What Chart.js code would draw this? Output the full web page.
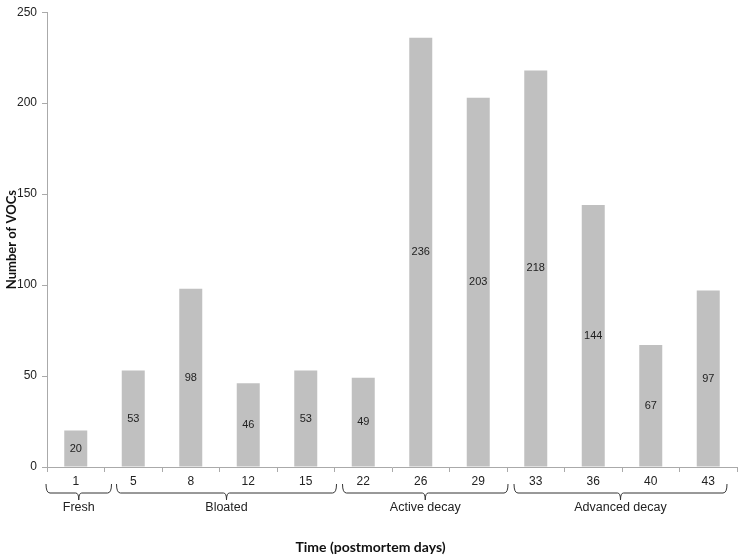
<!DOCTYPE html>
<html>
<head>
<meta charset="utf-8">
<script src="https://cdn.jsdelivr.net/npm/chart.js@4"></script>
<style>
  html, body { margin: 0; padding: 0; background: #fff; }
  #wrap { width: 741px; height: 556px; }
</style>
</head>
<body>
<div id="wrap"><canvas id="vocChart"></canvas></div>
<script>
const days      = ['1', '5', '8', '12', '15', '22', '26', '29', '33', '36', '40', '43'];
const vocCounts = [20, 53, 98, 46, 53, 49, 236, 203, 218, 144, 67, 97];
const yTicks    = [0, 50, 100, 150, 200, 250];

// decay stages: first and last index of days
const stageNames = ['Fresh', 'Bloated', 'Active decay', 'Advanced decay'];
const stageFrom  = [0, 1, 5, 8];
const stageTo    = [0, 4, 7, 11];

const txt = '#222';

// value inside each bar, at half height
const barLabels = {
  id: 'barLabels',
  afterDatasetsDraw(chart) {
    const c = chart.ctx;
    const meta = chart.getDatasetMeta(0);
    c.save();
    c.font = '11px "Liberation Sans", Arial, sans-serif';
    c.fillStyle = txt;
    c.textAlign = 'center';
    c.textBaseline = 'middle';
    meta.data.forEach((bar, i) => {
      c.fillText(vocCounts[i], bar.x, (bar.y + bar.base) / 2);
    });
    c.restore();
  }
};

// braces under the axis + stage names + x title
const stageBraces = {
  id: 'stageBraces',
  afterDraw(chart) {
    const c = chart.ctx;
    const x = chart.scales.x;
    const half = (x.getPixelForValue(1) - x.getPixelForValue(0)) / 2;
    const nudgeL = [-1, 12, 8, 7];
    const nudgeR = [7, 2, 1, -10];
    const yTop = 484, yLine = 493, yStem = 500;
    c.save();
    c.strokeStyle = '#333';
    c.lineWidth = 1;
    c.font = '12.5px "Liberation Sans", Arial, sans-serif';
    c.fillStyle = txt;
    c.textAlign = 'center';
    c.textBaseline = 'middle';
    stageNames.forEach((name, g) => {
      const l = x.getPixelForValue(stageFrom[g]) - half + nudgeL[g];
      const r = x.getPixelForValue(stageTo[g]) + half + nudgeR[g];
      const m = (l + r) / 2;
      c.beginPath();
      c.moveTo(l, yTop);
      c.quadraticCurveTo(l, yLine, l + 4, yLine);
      c.lineTo(m - 3, yLine);
      c.quadraticCurveTo(m, yLine, m, yStem);
      c.quadraticCurveTo(m, yLine, m + 3, yLine);
      c.lineTo(r - 4, yLine);
      c.quadraticCurveTo(r, yLine, r, yTop);
      c.stroke();
      c.fillText(name, m, 508);
    });
    c.font = 'bold 14px Lato, "Liberation Sans", sans-serif';
    c.fillStyle = '#111';
    c.fillText('Time (postmortem days)', chart.width / 2, 547);
    c.restore();
  }
};

new Chart(document.getElementById('vocChart'), {
  type: 'bar',
  data: {
    labels: days,
    datasets: [{
      data: vocCounts,
      backgroundColor: '#c0c0c0',
      borderWidth: 0,
      barPercentage: 0.4,
      categoryPercentage: 1
    }]
  },
  options: {
    responsive: true,
    maintainAspectRatio: false,
    animation: false,
    layout: { padding: { top: 8, right: 4, left: 0, bottom: 0 } },
    plugins: { legend: { display: false }, tooltip: { enabled: false } },
    scales: {
      x: {
        afterFit(s) { s.height = 89; },
        grid: { drawOnChartArea: false, color: '#aaa', tickLength: 5, offset: true },
        border: { color: '#aaa' },
        ticks: { color: txt, padding: 2, font: { family: '"Liberation Sans", Arial, sans-serif', size: 12 } }
      },
      y: {
        min: 0,
        max: 250,
        afterFit(s) { s.width = 47; },
        afterBuildTicks(s) { s.ticks = yTicks.map(v => ({ value: v })); },
        grid: { drawOnChartArea: false, color: '#aaa', tickLength: 5 },
        border: { color: '#aaa' },
        ticks: { color: txt, padding: 5, font: { family: '"Liberation Sans", Arial, sans-serif', size: 12 } },
        title: {
          display: true,
          text: 'Number of VOCs',
          color: '#111',
          padding: { top: 4, bottom: 0 },
          font: { family: 'Lato, "Liberation Sans", sans-serif', size: 13, weight: 'bold' }
        }
      }
    }
  },
  plugins: [barLabels, stageBraces]
});
</script>
</body>
</html>
